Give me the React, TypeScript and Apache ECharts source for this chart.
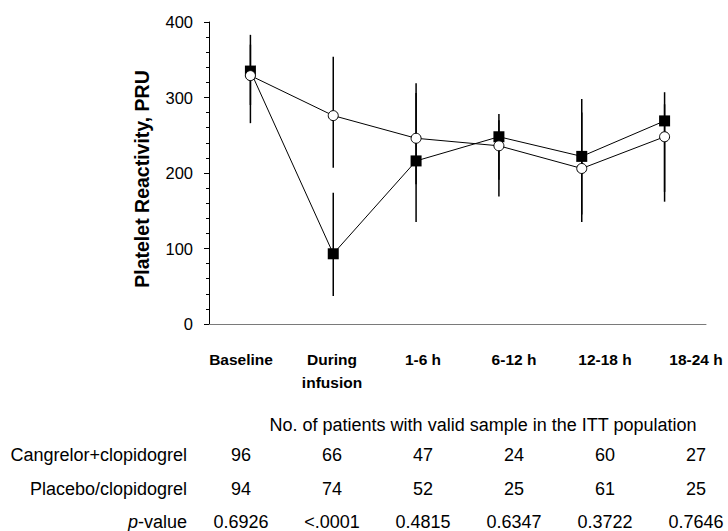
import React, { useEffect, useRef } from "react";
import * as echarts from "echarts";

const categories = ["Baseline", "During\ninfusion", "1-6 h", "6-12 h", "12-18 h", "18-24 h"];
const cangrelorMean = [335, 93, 216, 248, 222, 269];
const cangrelorLow = [290, 37, 135, 191, 145, 175];
const cangrelorHigh = [383, 174, 306, 278, 298, 307];
const placeboMean = [329, 276, 246, 236, 206, 248];
const placeboLow = [266, 207, 185, 169, 135, 162];
const placeboHigh = [370, 354, 319, 270, 280, 291];
const yTicks = { min: 0, max: 400, interval: 100 };

const rowLabels = ["Cangrelor+clopidogrel", "Placebo/clopidogrel", "p-value"];
const cangrelorN = ["96", "66", "47", "24", "60", "27"];
const placeboN = ["94", "74", "52", "25", "61", "25"];
const pValues = ["0.6926", "<.0001", "0.4815", "0.6347", "0.3722", "0.7646"];
const tableHeader = "No. of patients with valid sample in the ITT population";

const FONT = "'Liberation Sans', Arial, Helvetica, sans-serif";
const TABLE_FS = 18;

export default function App() {
  const ref = useRef<HTMLDivElement>(null);
  useEffect(() => {
    if (!ref.current) return;
    const chart = echarts.init(ref.current, undefined, { renderer: "svg" });

    const errData = (lo: number[], hi: number[]) => lo.map((l, i) => [i, l, hi[i]]);
    const errSeries = (lo: number[], hi: number[]) => ({
      type: "custom",
      xAxisIndex: 0,
      yAxisIndex: 0,
      z: 1,
      data: errData(lo, hi),
      encode: { x: 0, y: [1, 2] },
      renderItem: (params: any, api: any) => {
        const p1 = api.coord([api.value(0), api.value(1)]);
        const p2 = api.coord([api.value(0), api.value(2)]);
        return {
          type: "line",
          shape: { x1: p1[0], y1: p1[1], x2: p2[0], y2: p2[1] },
          style: { stroke: "#000", lineWidth: 1.5 },
        };
      },
    });

    const rows = [cangrelorN, placeboN, pValues];
    const tableTexts: string[] = [];
    const tableData: number[][] = [];
    rows.forEach((row, r) =>
      row.forEach((t, c) => {
        tableTexts.push(t);
        tableData.push([c, r]);
      })
    );

    chart.setOption({
      animation: false,
      textStyle: { fontFamily: FONT },
      grid: [
        { left: 209, right: 22, top: 22, height: 302 },
        { left: 241, right: 32, top: 330, height: 10 },
        { left: 241, right: 32, top: 455, height: 68 },
      ],
      xAxis: [
        {
          type: "category",
          gridIndex: 0,
          data: categories,
          boundaryGap: true,
          axisLine: { lineStyle: { color: "#7a7a7a", width: 1 } },
          axisTick: { show: false },
          axisLabel: { show: false },
          splitLine: { show: false },
        },
        {
          type: "category",
          gridIndex: 1,
          data: categories,
          boundaryGap: false,
          axisLine: { show: false },
          axisTick: { show: false },
          axisLabel: {
            fontFamily: FONT,
            fontSize: 15.5,
            fontWeight: "bold",
            color: "#000",
            lineHeight: 23,
            margin: 8,
            interval: 0,
            align: "center",
          },
        },
        {
          type: "category",
          gridIndex: 2,
          data: categories,
          boundaryGap: false,
          axisLine: { show: false },
          axisTick: { show: false },
          axisLabel: { show: false },
        },
      ],
      yAxis: [
        {
          type: "value",
          gridIndex: 0,
          min: yTicks.min,
          max: yTicks.max,
          interval: yTicks.interval,
          name: "Platelet Reactivity, PRU",
          nameLocation: "middle",
          nameRotate: 90,
          nameGap: 57,
          nameTextStyle: {
            fontFamily: FONT,
            fontSize: 19.5,
            fontWeight: "bold",
            color: "#000",
            padding: [0, 12, 0, 0],
          },
          axisLine: { show: true, lineStyle: { color: "#000", width: 1 } },
          axisTick: { show: true, length: 5, lineStyle: { color: "#000" } },
          minorTick: { show: true, splitNumber: 5, length: 3, lineStyle: { color: "#000" } },
          axisLabel: { fontFamily: FONT, fontSize: 16.5, color: "#000", margin: 16 },
          splitLine: { show: false },
        },
        {
          type: "category",
          gridIndex: 1,
          show: false,
        },
        {
          type: "category",
          gridIndex: 2,
          data: rowLabels,
          inverse: true,
          boundaryGap: false,
          axisLine: { show: false },
          axisTick: { show: false },
          axisLabel: {
            fontFamily: FONT,
            fontSize: TABLE_FS,
            color: "#000",
            margin: 54,
            interval: 0,
            formatter: (v: string) => (v === "p-value" ? "{i|p}-value" : v),
            rich: { i: { fontStyle: "italic", fontSize: TABLE_FS, fontFamily: FONT, color: "#000" } },
          },
        },
      ],
      graphic: [
        {
          type: "text",
          x: 483,
          y: 425,
          style: {
            text: tableHeader,
            align: "center",
            verticalAlign: "middle",
            fontSize: TABLE_FS,
            fontFamily: FONT,
            fill: "#000",
          },
        },
      ],
      series: [
        errSeries(cangrelorLow, cangrelorHigh),
        errSeries(placeboLow, placeboHigh),
        {
          type: "line",
          xAxisIndex: 0,
          yAxisIndex: 0,
          z: 3,
          data: cangrelorMean,
          symbol: "rect",
          symbolSize: 11,
          showAllSymbol: true,
          lineStyle: { color: "#000", width: 1 },
          itemStyle: { color: "#000", borderColor: "#000", borderWidth: 0 },
        },
        {
          type: "line",
          xAxisIndex: 0,
          yAxisIndex: 0,
          z: 4,
          data: placeboMean,
          symbol: "circle",
          symbolSize: 10,
          showAllSymbol: true,
          lineStyle: { color: "#000", width: 1 },
          itemStyle: { color: "#fff", borderColor: "#000", borderWidth: 1 },
        },
        {
          type: "custom",
          xAxisIndex: 2,
          yAxisIndex: 2,
          data: tableData,
          encode: { x: 0, y: 1 },
          renderItem: (params: any, api: any) => {
            const p = api.coord([api.value(0), api.value(1)]);
            return {
              type: "text",
              x: p[0],
              y: p[1],
              style: {
                text: tableTexts[params.dataIndex],
                align: "center",
                verticalAlign: "middle",
                fontSize: TABLE_FS,
                fontFamily: FONT,
                fill: "#000",
              },
            };
          },
        },
      ],
    });
    return () => chart.dispose();
  }, []);
  return (
    <div
      ref={ref}
      style={{ position: "fixed", left: 0, top: 0, width: 728, height: 531, background: "#fff" }}
    />
  );
}
